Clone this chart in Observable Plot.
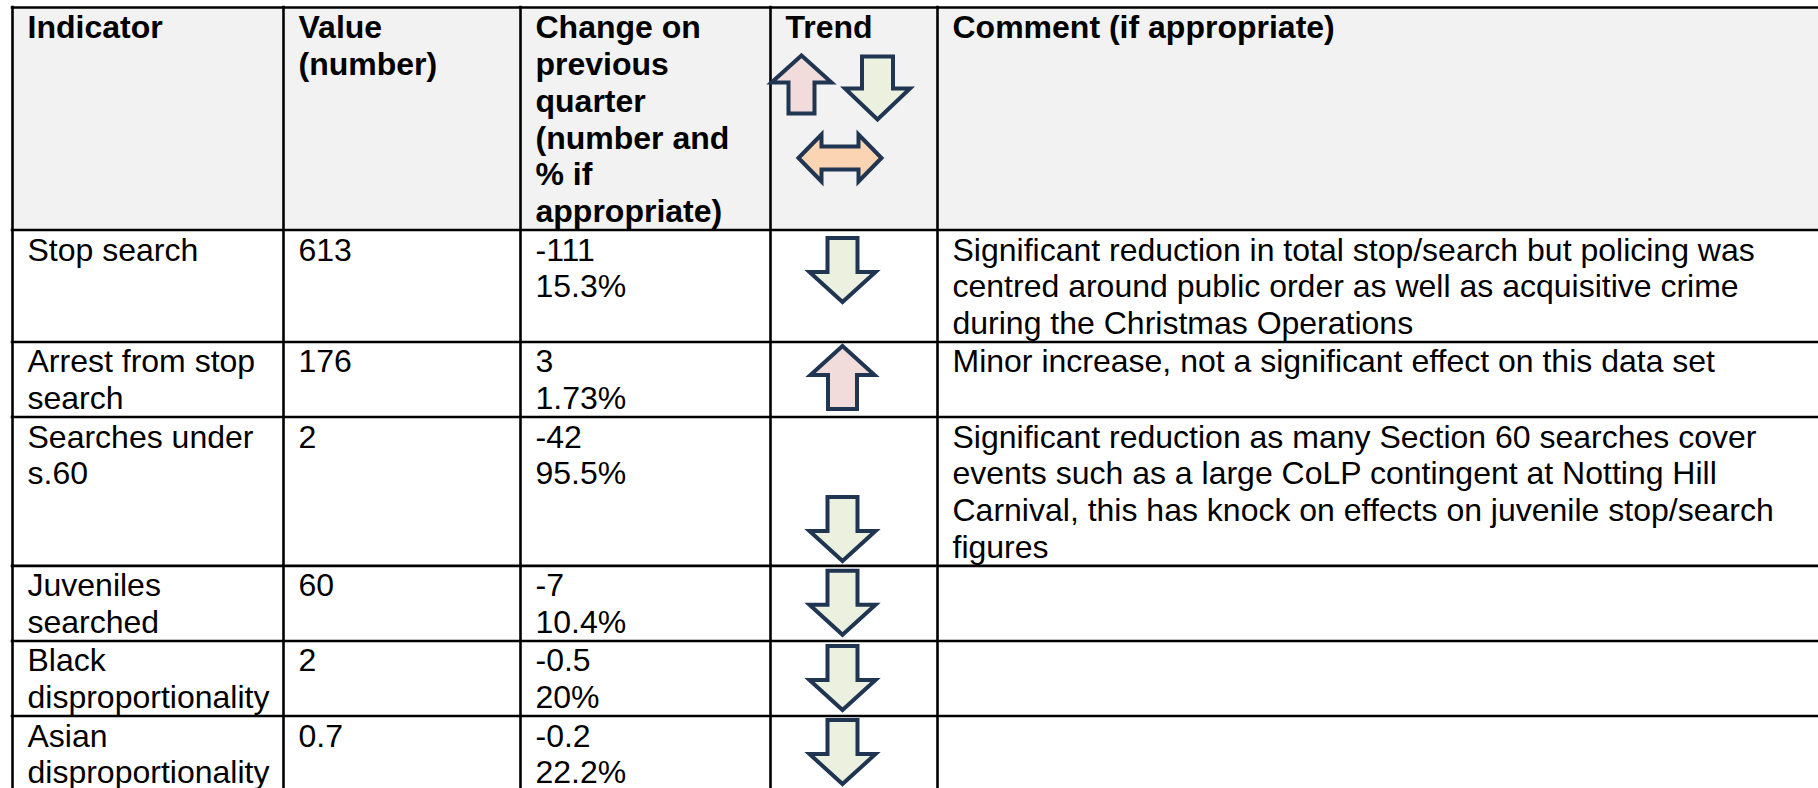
<!DOCTYPE html>
<html>
<head>
<meta charset="utf-8">
<script src="https://cdn.jsdelivr.net/npm/d3@7"></script>
<script src="https://cdn.jsdelivr.net/npm/@observablehq/plot@0.6"></script>
<style>
  html, body { margin: 0; padding: 0; background: #ffffff; }
  #chart svg { display: block; }
</style>
</head>
<body>
<div id="chart"></div>
<script>
// ---------- DATA ----------
const headers = [
  "Indicator",
  "Value\n(number)",
  "Change on\nprevious\nquarter\n(number and\n% if\nappropriate)",
  "Trend",
  "Comment (if appropriate)"
];
const indicators = [
  "Stop search",
  "Arrest from stop\nsearch",
  "Searches under\ns.60",
  "Juveniles\nsearched",
  "Black\ndisproportionality",
  "Asian\ndisproportionality"
];
const values = [613, 176, 2, 60, 2, 0.7];
const changeNumbers = [-111, 3, -42, -7, -0.5, -0.2];
const changePercents = [15.3, 1.73, 95.5, 10.4, 20, 22.2];
const trends = ["down", "up", "down", "down", "down", "down"];
const comments = [
  "Significant reduction in total stop/search but policing was\ncentred around public order as well as acquisitive crime\nduring the Christmas Operations",
  "Minor increase, not a significant effect on this data set",
  "Significant reduction as many Section 60 searches cover\nevents such as a large CoLP contingent at Notting Hill\nCarnival, this has knock on effects on juvenile stop/search\nfigures",
  "",
  "",
  ""
];
const keyTrends = ["up", "down", "both"];

// ---------- LAYOUT / STYLE ----------
const W = 1818, H = 788;
const colEdges = [12, 283, 520, 770, 937, W];
const tableTop = 7;
const lineStep = 36.85;
const rowPad = 1.4;
const baselineOffset = 30.5;
const textPad = 15;
const fontSize = 32;
const trendTopOffset = [8, 4, 80, 5, 5, 4];
const trendCx = 72;
const keyPlacement = {up: {cx: 31, top: 55}, down: {cx: 107, top: 56}, both: {cx: 69.5, top: 134}};
const arrowSizes = {
  body: {down: {hs: 15, hh: 33, ls: 34, lh: 30}, up: {hs: 14.5, hh: 32, ls: 34, lh: 29}},
  key: {down: {hs: 15.5, hh: 32.5, ls: 32, lh: 31}, up: {hs: 13, hh: 30, ls: 31, lh: 27}, both: {len: 83, hh: 23.5, hs: 11.5, head: 23}}
};
const fills = {up: "#f2dcdb", down: "#ebf1de", both: "#fbd4b4"};
const arrowStroke = "#1f3552";

// ---------- BUILD TABLE ----------
const fmt = v => String(v);
const bodyCells = indicators.map((ind, i) => [
  ind,
  fmt(values[i]),
  fmt(changeNumbers[i]) + "\n" + fmt(changePercents[i]) + "%",
  "",
  comments[i]
]);
const rowsText = [headers, ...bodyCells];
const rowLines = rowsText.map(cells => d3.max(cells, c => c ? c.split("\n").length : 1));
const rowTops = [tableTop];
rowLines.forEach((n, i) => rowTops.push(rowTops[i] + n * lineStep + rowPad));

const textRecords = [];
rowsText.forEach((cells, r) => {
  cells.forEach((cell, c) => {
    if (!cell) return;
    cell.split("\n").forEach((line, k) => {
      textRecords.push({
        x: colEdges[c] + textPad,
        y: rowTops[r] + baselineOffset + k * lineStep,
        text: line,
        header: r === 0
      });
    });
  });
});

function arrowPolygon(kind, cx, top, s) {
  if (kind === "down") {
    return [[cx - s.hs, top], [cx + s.hs, top], [cx + s.hs, top + s.ls], [cx + s.hh, top + s.ls],
            [cx, top + s.ls + s.lh], [cx - s.hh, top + s.ls], [cx - s.hs, top + s.ls]];
  }
  if (kind === "up") {
    return [[cx, top], [cx + s.hh, top + s.lh], [cx + s.hs, top + s.lh], [cx + s.hs, top + s.lh + s.ls],
            [cx - s.hs, top + s.lh + s.ls], [cx - s.hs, top + s.lh], [cx - s.hh, top + s.lh]];
  }
  const cy = top + s.hh, L = cx - s.len / 2, R = cx + s.len / 2;
  return [[L, cy], [L + s.head, cy - s.hh], [L + s.head, cy - s.hs], [R - s.head, cy - s.hs],
          [R - s.head, cy - s.hh], [R, cy], [R - s.head, cy + s.hh], [R - s.head, cy + s.hs],
          [L + s.head, cy + s.hs], [L + s.head, cy + s.hh]];
}

const arrowPoints = [];
keyTrends.forEach((kind, i) => {
  const p = keyPlacement[kind];
  arrowPolygon(kind, colEdges[3] + p.cx, p.top, arrowSizes.key[kind])
    .forEach(([x, y]) => arrowPoints.push({id: "key" + i, kind, x, y}));
});
trends.forEach((kind, i) => {
  arrowPolygon(kind, colEdges[3] + trendCx, rowTops[i + 1] + trendTopOffset[i], arrowSizes.body[kind])
    .forEach(([x, y]) => arrowPoints.push({id: "row" + i, kind, x, y}));
});

const hLines = rowTops.map(y => ({y}));
const vLines = colEdges.slice(0, 5).map(x => ({x}));
const headerBg = [{x1: colEdges[0], x2: W, y1: rowTops[0], y2: rowTops[1]}];

const arrowMark = kind => Plot.line(arrowPoints.filter(d => d.kind === kind), {
  x: "x", y: "y", z: "id", curve: "linear-closed",
  fill: fills[kind], stroke: arrowStroke, strokeWidth: 4,
  strokeLinejoin: "miter", strokeMiterlimit: 10
});

const chart = Plot.plot({
  width: W,
  height: H,
  margin: 0,
  x: {domain: [0, W], range: [0, W], axis: null},
  y: {domain: [0, H], range: [0, H], axis: null},
  style: {fontFamily: "'Liberation Sans', Arial, sans-serif", fontSize: "32px", background: "#ffffff", color: "#000000"},
  marks: [
    Plot.rect(headerBg, {x1: "x1", x2: "x2", y1: "y1", y2: "y2", fill: "#f2f2f2"}),
    Plot.ruleY(hLines, {y: "y", x1: colEdges[0], x2: W, stroke: "#000000", strokeWidth: 2.6, strokeLinecap: "square"}),
    Plot.ruleX(vLines, {x: "x", y1: tableTop, y2: H + 10, stroke: "#000000", strokeWidth: 2.6, strokeLinecap: "square"}),
    Plot.text(textRecords.filter(d => d.header), {
      x: "x", y: "y", text: "text", textAnchor: "start", lineAnchor: "bottom",
      fontSize, fontWeight: "bold", fill: "#000000"
    }),
    Plot.text(textRecords.filter(d => !d.header), {
      x: "x", y: "y", text: "text", textAnchor: "start", lineAnchor: "bottom",
      fontSize, fontWeight: "normal", fill: "#000000"
    }),
    arrowMark("up"),
    arrowMark("down"),
    arrowMark("both")
  ]
});
document.getElementById("chart").appendChild(chart);
</script>
</body>
</html>
